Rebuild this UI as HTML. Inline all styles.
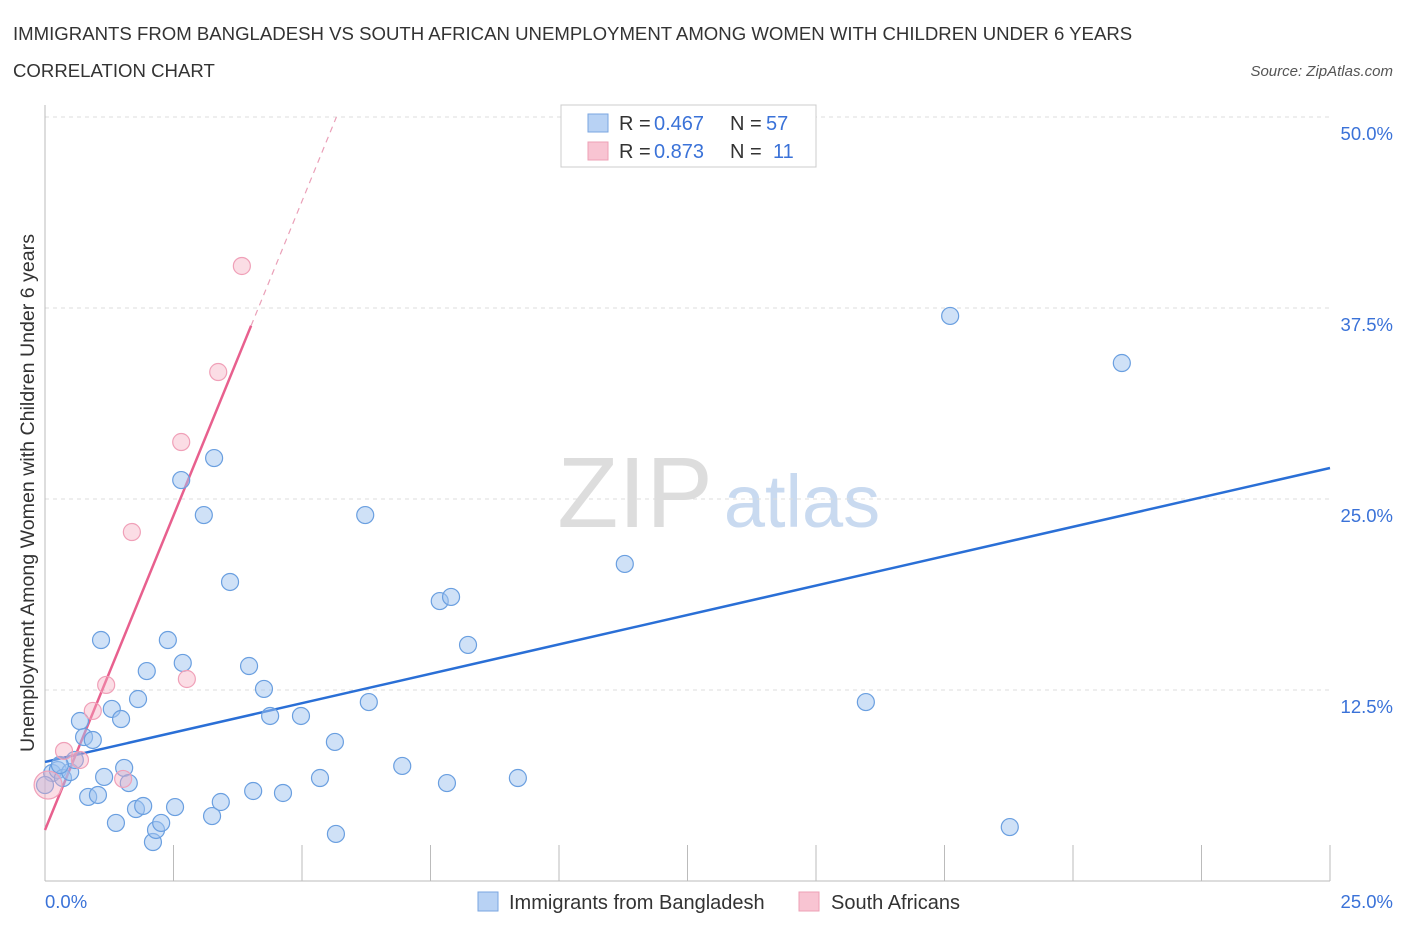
<!DOCTYPE html>
<html><head><meta charset="utf-8"><style>
body{margin:0;background:#fff;font-family:"Liberation Sans",sans-serif;}
svg text{font-family:"Liberation Sans",sans-serif;}
</style></head><body>
<svg id="chart" width="1406" height="930" viewBox="0 0 1406 930" xmlns="http://www.w3.org/2000/svg">
<text x="13" y="40" font-size="18.6" fill="#333">IMMIGRANTS FROM BANGLADESH VS SOUTH AFRICAN UNEMPLOYMENT AMONG WOMEN WITH CHILDREN UNDER 6 YEARS</text>
<text x="13" y="77" font-size="18.6" fill="#333">CORRELATION CHART</text>
<text x="1393" y="76" font-size="15" fill="#555" font-style="italic" text-anchor="end">Source: ZipAtlas.com</text>
<g>
<text x="635" y="527" font-size="100" fill="#ddd" font-family="Liberation Serif" text-anchor="middle">ZIP</text>
<text x="802" y="527" font-size="74" fill="#c9daf0" text-anchor="middle">atlas</text>
</g>
<g id="grid"></g>
<g id="axes"></g>
<g id="lines"></g>
<g id="points"></g>
<g>
<rect x="561" y="105" width="255" height="62" fill="#fff" stroke="#ccc"/>
<rect x="588" y="114" width="20" height="18" fill="#b8d2f4" stroke="#7aa6e0"/>
<rect x="588" y="142" width="20" height="18" fill="#f8c4d2" stroke="#eea0b6"/>
<text x="619" y="130" font-size="20" fill="#333">R =</text>
<text x="654" y="130" font-size="20" fill="#3a72d8">0.467</text>
<text x="730" y="130" font-size="20" fill="#333">N =</text>
<text x="766" y="130" font-size="20" fill="#3a72d8">57</text>
<text x="619" y="158" font-size="20" fill="#333">R =</text>
<text x="654" y="158" font-size="20" fill="#3a72d8">0.873</text>
<text x="730" y="158" font-size="20" fill="#333">N =</text>
<text x="773" y="158" font-size="20" fill="#3a72d8">11</text>
</g>
<g>
<rect x="478" y="892" width="20" height="19" fill="#b8d2f4" stroke="#7aa6e0"/>
<text x="509" y="909" font-size="20" fill="#333">Immigrants from Bangladesh</text>
<rect x="799" y="892" width="20" height="19" fill="#f8c4d2" stroke="#eea0b6"/>
<text x="831" y="909" font-size="20" fill="#333">South Africans</text>
</g>
<text transform="translate(34,493) rotate(-90)" font-size="19.6" fill="#333" text-anchor="middle">Unemployment Among Women with Children Under 6 years</text>
</svg>
<script>
const blueX=[0.14,0.25,0.35,0.49,0.58,0.68,0.76,0.93,0.84,1.03,1.09,1.15,1.30,1.38,1.48,1.54,1.63,1.77,1.81,1.91,1.98,2.10,2.16,2.26,2.39,2.53,2.68,2.65,3.09,3.25,3.29,3.42,3.60,3.97,4.05,4.26,4.38,4.63,4.98,5.35,5.64,5.66,6.23,6.30,6.95,7.68,7.82,7.90,8.23,9.20,11.28,15.97,17.61,18.77,20.95,0.0,0.29];
const blueY=[7.07,7.26,6.74,7.13,7.92,10.47,9.42,9.23,5.50,5.63,15.77,6.81,11.26,3.80,10.60,7.40,6.41,4.71,11.91,4.91,13.74,2.55,3.34,3.80,15.77,4.84,14.27,26.24,23.95,4.25,27.68,5.17,19.57,14.07,5.89,12.57,10.80,5.76,10.80,6.74,9.10,3.08,23.95,11.71,7.53,18.32,6.41,18.59,15.45,6.74,20.75,11.71,36.98,3.53,33.90,6.28,7.59];
const pinkX=[0.06,0.37,0.68,0.93,1.19,1.52,1.69,2.65,2.76,3.37,3.83];
const pinkY=[6.28,8.51,7.92,11.13,12.83,6.68,22.84,28.73,13.22,33.31,40.25];
const pinkR=[14,8.5,8.5,8.5,8.5,8.5,8.5,8.5,8.5,8.5,8.5];
const yTicks=[12.5,25,37.5,50];
const yTickLabels=["12.5%","25.0%","37.5%","50.0%"];
const xTicks=[0,2.5,5,7.5,10,12.5,15,17.5,20,22.5,25];
const blueTrend=[7.79,27.03];
const pinkTrend=[3.34,8.23];
const pinkSolidEnd=4.01;

const NS="http://www.w3.org/2000/svg";
const xs=v=>45+v*51.4;
const ys=v=>881-v*15.28;
function mk(tag,attrs,parent){const e=document.createElementNS(NS,tag);for(const k in attrs)e.setAttribute(k,attrs[k]);document.getElementById(parent).appendChild(e);return e;}
yTicks.forEach((t,i)=>{
  const g=mk('line',{x1:45,x2:1330,y1:ys(t),y2:ys(t),stroke:'#ddd','stroke-dasharray':'4,4'},'grid');
  
  
  const l=mk('text',{x:1393,y:ys(t)+23,'font-size':18.5,fill:'#3a72d8','text-anchor':'end'},'grid');
  l.textContent=yTickLabels[i];
  
  
});
const ax=mk('line',{x1:45,x2:1330,y1:881,y2:881,stroke:'#bbb'},'axes');


const ay=mk('line',{x1:45,x2:45,y1:105,y2:881,stroke:'#bbb'},'axes');


xTicks.forEach(t=>{
  const e=mk('line',{x1:xs(t),x2:xs(t),y1:845,y2:881,stroke:'#bbb'},'axes');
  
  
});
const x0=mk('text',{x:45,y:908,'font-size':18.5,fill:'#3a72d8'},'axes');x0.textContent='0.0%';


const x1=mk('text',{x:1393,y:908,'font-size':18.5,fill:'#3a72d8','text-anchor':'end'},'axes');x1.textContent='25.0%';


blueX.forEach((x,i)=>{
  const c=mk('circle',{cx:xs(x),cy:ys(blueY[i]),r:8.5,fill:'rgba(160,195,240,0.5)',stroke:'#6a9fe0','stroke-width':1.2},'points');
  
  
});
pinkX.forEach((x,i)=>{
  const c=mk('circle',{cx:xs(x),cy:ys(pinkY[i]),r:pinkR[i],fill:'rgba(245,170,190,0.4)',stroke:'#f0a0b8','stroke-width':1.2},'points');
  
  
});
const bl=mk('line',{x1:xs(0),y1:ys(blueTrend[0]),x2:xs(25),y2:ys(blueTrend[1]),stroke:'#2a6fd6','stroke-width':2.5},'lines');


const pl=mk('line',{x1:xs(0),y1:ys(pinkTrend[0]),x2:xs(pinkSolidEnd),y2:ys(pinkTrend[0]+pinkTrend[1]*pinkSolidEnd),stroke:'#e8608e','stroke-width':2.5},'lines');


const xe=(50-pinkTrend[0])/pinkTrend[1];
const pd=mk('line',{x1:xs(pinkSolidEnd),y1:ys(pinkTrend[0]+pinkTrend[1]*pinkSolidEnd),x2:xs(xe),y2:ys(50),stroke:'#eaa0b8','stroke-width':1.2,'stroke-dasharray':'6,5'},'lines');


</script>
</body></html>
